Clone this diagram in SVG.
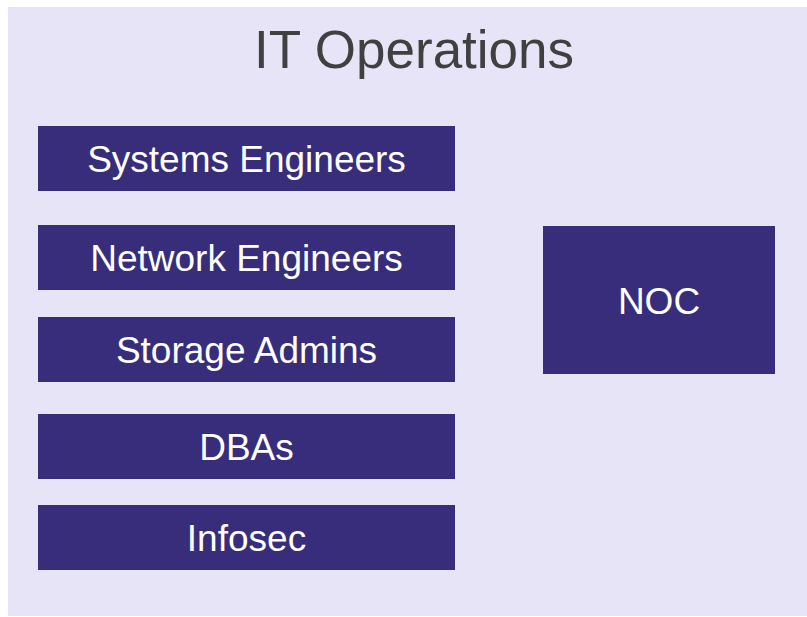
<svg xmlns="http://www.w3.org/2000/svg" width="807" height="617" viewBox="0 0 807 617">
<style>
.box{fill:#372D7A}
.lbl{font-family:"Liberation Sans",Arial,sans-serif;font-size:37px;fill:#FFFFFF;text-anchor:middle}
.title{font-family:"Liberation Sans",Arial,sans-serif;font-size:53px;fill:#404040;text-anchor:middle}
</style>
<rect width="807" height="617" fill="#FFFFFF"/>
<g id="container">
<rect x="8" y="7" width="799" height="609" fill="#E6E4F6"/>
<text class="title" x="414" y="68">IT Operations</text>
</g>
<g id="systems-engineers">
<rect class="box" x="38" y="126" width="417" height="65"/>
<text class="lbl" x="246.5" y="172">Systems Engineers</text>
</g>
<g id="network-engineers">
<rect class="box" x="38" y="225" width="417" height="65"/>
<text class="lbl" x="246.5" y="271">Network Engineers</text>
</g>
<g id="storage-admins">
<rect class="box" x="38" y="317" width="417" height="65"/>
<text class="lbl" x="246.5" y="363">Storage Admins</text>
</g>
<g id="dbas">
<rect class="box" x="38" y="414" width="417" height="65"/>
<text class="lbl" x="246.5" y="460">DBAs</text>
</g>
<g id="infosec">
<rect class="box" x="38" y="505" width="417" height="65"/>
<text class="lbl" x="246.5" y="551">Infosec</text>
</g>
<g id="noc">
<rect class="box" x="543" y="226" width="232" height="148"/>
<text class="lbl" x="659" y="314">NOC</text>
</g>
<g id="connectors"></g>
</svg>
